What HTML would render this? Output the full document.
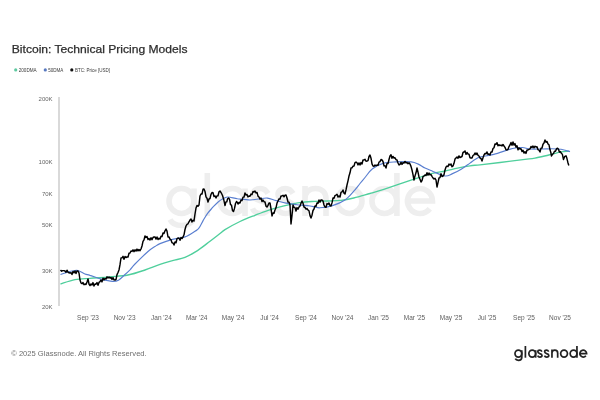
<!DOCTYPE html>
<html><head><meta charset="utf-8">
<style>
html,body{margin:0;padding:0;background:#fff;width:600px;height:400px;overflow:hidden}
svg{position:absolute;left:0;top:0;filter:blur(0.3px)}
text{font-family:"Liberation Sans",sans-serif}
</style></head><body>
<svg width="600" height="400" viewBox="0 0 600 400">
<rect width="600" height="400" fill="#fff"/>
<text x="11.8" y="53.4" font-size="11.2" fill="#2e2e2e" stroke="#2e2e2e" stroke-width="0.25" textLength="175.7" lengthAdjust="spacingAndGlyphs">Bitcoin: Technical Pricing Models</text>
<g font-size="4.8" fill="#3a3a3a">
<circle cx="15.7" cy="69.9" r="1.6" fill="#5ec9a0"/>
<text x="18.7" y="71.8" textLength="18" lengthAdjust="spacingAndGlyphs">200DMA</text>
<circle cx="45.3" cy="69.9" r="1.6" fill="#5879c0"/>
<text x="48.2" y="71.8" textLength="15.2" lengthAdjust="spacingAndGlyphs">50DMA</text>
<circle cx="71.8" cy="69.9" r="1.6" fill="#111"/>
<text x="75" y="71.8" textLength="35" lengthAdjust="spacingAndGlyphs">BTC: Price [USD]</text>
</g>
<defs><g id="wm" fill="none">
<circle cx="181.5" cy="201" r="12.5"/><path d="M194,188.5 V215 C194,222 188.5,225.5 181.5,225.5 C176.5,225.5 172,223.5 170,219.5"/>
<path d="M207.3,173 V216"/>
<circle cx="232.5" cy="201" r="12.5"/><path d="M245,188.5 V216"/>
<path id="s1" d="M268,193.5 C266,190 263,188.5 260.5,188.5 C256,188.5 253,191 253,194.5 C253,198.5 257,199.8 260.5,200.8 C264.5,201.8 268.5,203.5 268.5,207.5 C268.5,211 265,213.5 260.5,213.5 C257,213.5 254,212 252.5,208.5"/>
<path d="M293,193.5 C291,190 288,188.5 285.5,188.5 C281,188.5 278,191 278,194.5 C278,198.5 282,199.8 285.5,200.8 C289.5,201.8 293.5,203.5 293.5,207.5 C293.5,211 290,213.5 285.5,213.5 C282,213.5 279,212 277.5,208.5"/>
<path d="M305,216 V186 M305,199 C305,192 309.5,188.5 315.5,188.5 C321.5,188.5 326,192 326,199 V216"/>
<circle cx="349.5" cy="201" r="12.5"/>
<circle cx="384.4" cy="201" r="12.5"/><path d="M396.9,173 V216"/>
<path d="M407.5,201 H432.5 A12.5,12.5 0 1 0 429.8,208.8"/>
</g></defs>
<use href="#wm" stroke="#eeeeee" stroke-width="5.6"/>
<line x1="59" y1="97" x2="59" y2="306" stroke="#b3b3b3" stroke-width="1"/>
<g font-size="6" fill="#666" text-anchor="end" transform="translate(0.6,1)">
<text x="52" y="99.5">200K</text>
<text x="52" y="163">100K</text>
<text x="52" y="195">70K</text>
<text x="52" y="226">50K</text>
<text x="52" y="272">30K</text>
<text x="52" y="308">20K</text>
</g>
<g font-size="6.5" fill="#5e5e5e" text-anchor="middle">
<text x="88" y="320">Sep '23</text>
<text x="124.6" y="320">Nov '23</text>
<text x="161.4" y="320">Jan '24</text>
<text x="196.7" y="320">Mar '24</text>
<text x="233" y="320">May '24</text>
<text x="269.5" y="320">Jul '24</text>
<text x="306" y="320">Sep '24</text>
<text x="342.5" y="320">Nov '24</text>
<text x="378.5" y="320">Jan '25</text>
<text x="414.5" y="320">Mar '25</text>
<text x="451" y="320">May '25</text>
<text x="487" y="320">Jul '25</text>
<text x="524" y="320">Sep '25</text>
<text x="560" y="320">Nov '25</text>
</g>
<path d="M60.5,284.0 C62.9,283.3 70.1,280.5 75.0,279.6 C79.9,278.7 84.2,278.8 90.0,278.4 C95.8,277.9 103.7,277.5 110.0,276.9 C116.3,276.3 122.2,276.1 128.0,275.0 C133.8,273.9 139.7,271.8 145.0,270.0 C150.3,268.2 155.4,266.0 160.0,264.4 C164.6,262.8 168.3,261.8 172.5,260.6 C176.7,259.4 180.8,259.0 185.0,257.3 C189.2,255.6 193.3,253.3 197.5,250.6 C201.7,247.9 206.2,244.1 210.0,241.2 C213.8,238.4 217.5,235.4 220.0,233.5 C222.5,231.6 221.7,231.6 225.0,229.6 C228.3,227.6 235.0,223.9 240.0,221.5 C245.0,219.1 250.4,217.1 255.0,215.3 C259.6,213.5 263.3,212.0 267.5,210.6 C271.7,209.2 275.8,208.0 280.0,206.9 C284.2,205.8 288.3,204.6 292.5,203.8 C296.7,202.9 301.2,202.4 305.0,202.0 C308.8,201.6 311.2,201.6 315.0,201.4 C318.8,201.2 323.7,201.2 328.0,201.0 C332.3,200.8 336.7,200.8 341.0,200.3 C345.3,199.8 348.9,199.1 353.8,198.0 C358.6,196.9 365.0,194.9 370.0,193.5 C375.0,192.1 376.7,191.7 383.8,189.4 C390.8,187.1 404.4,182.3 412.5,179.6 C420.6,176.9 427.1,174.7 432.5,173.3 C437.9,171.9 440.8,171.9 445.0,171.0 C449.2,170.1 453.3,169.0 457.5,168.1 C461.7,167.2 466.2,166.4 470.0,165.8 C473.8,165.2 475.0,165.4 480.0,164.8 C485.0,164.2 492.5,163.4 500.0,162.5 C507.5,161.6 519.2,160.1 525.0,159.4 C530.8,158.7 531.0,158.8 535.0,158.1 C539.0,157.4 544.4,156.0 548.8,155.0 C553.1,154.0 557.9,152.5 561.2,151.9 C564.6,151.3 567.7,151.4 569.0,151.2" fill="none" stroke="#4fcf9c" stroke-width="1.35"/>
<path d="M60.5,274.5 C61.2,274.2 63.1,273.6 65.0,273.0 C66.9,272.4 69.8,271.4 72.0,271.0 C74.2,270.6 75.8,270.0 78.0,270.5 C80.2,271.0 83.0,273.2 85.0,274.0 C87.0,274.8 87.3,274.5 90.0,275.4 C92.7,276.2 97.5,278.1 101.2,279.1 C105.0,280.1 109.6,281.2 112.5,281.4 C115.4,281.6 116.4,281.4 118.5,280.2 C120.6,279.1 123.1,276.2 125.0,274.5 C126.9,272.8 128.3,271.5 130.0,269.8 C131.7,268.0 132.0,267.0 135.0,264.0 C138.0,261.0 144.7,254.4 148.0,251.5 C151.3,248.6 153.0,247.8 155.0,246.5 C157.0,245.2 157.1,244.8 160.0,243.6 C162.9,242.4 168.3,240.5 172.5,239.4 C176.7,238.3 181.2,238.3 185.0,236.9 C188.8,235.5 192.7,232.7 195.0,231.2 C197.3,229.8 197.5,230.1 198.9,228.2 C200.3,226.4 201.8,222.9 203.2,220.4 C204.7,217.9 206.0,215.6 207.6,213.4 C209.2,211.2 211.2,209.2 212.9,207.2 C214.7,205.3 216.3,203.5 218.1,202.0 C219.8,200.5 221.8,199.3 223.4,198.5 C225.1,197.7 225.7,197.0 228.0,197.0 C230.3,197.0 233.8,198.2 237.5,198.8 C241.2,199.2 246.2,200.0 250.0,200.0 C253.8,200.0 257.1,199.1 260.0,198.8 C262.9,198.4 264.8,197.8 267.5,198.1 C270.2,198.4 273.1,199.8 276.2,200.6 C279.4,201.4 282.5,202.4 286.2,203.1 C290.0,203.8 295.2,204.6 298.8,205.0 C302.3,205.4 304.8,205.3 307.5,205.6 C310.2,205.9 312.9,206.5 315.0,206.9 C317.1,207.3 317.1,208.0 320.0,207.8 C322.9,207.6 328.3,206.9 332.5,205.6 C336.7,204.3 341.5,202.4 345.0,200.0 C348.5,197.6 351.2,194.0 353.8,191.2 C356.2,188.5 358.1,185.8 360.0,183.5 C361.9,181.2 362.9,180.0 365.0,177.5 C367.1,175.0 369.4,171.2 372.5,168.8 C375.6,166.3 379.8,164.2 383.8,163.1 C387.7,162.0 391.7,162.1 396.2,161.9 C400.8,161.7 407.5,161.5 411.2,161.9 C415.0,162.3 416.5,163.4 418.8,164.4 C421.0,165.4 422.7,167.0 425.0,168.1 C427.3,169.2 429.2,169.9 432.5,171.2 C435.8,172.6 441.7,175.6 445.0,176.0 C448.3,176.4 449.8,174.7 452.5,173.6 C455.2,172.5 458.3,171.0 461.2,169.2 C464.2,167.5 467.7,164.7 470.0,163.1 C472.3,161.5 473.3,160.6 475.0,159.6 C476.7,158.6 476.9,157.9 480.0,157.0 C483.1,156.1 488.3,155.8 493.8,154.4 C499.2,153.0 507.7,149.7 512.5,148.5 C517.3,147.3 519.6,147.4 522.5,147.5 C525.4,147.6 526.7,148.8 530.0,149.0 C533.3,149.2 539.2,149.0 542.5,149.0 C545.8,149.0 546.9,148.8 550.0,148.8 C553.1,148.8 557.7,148.7 561.0,149.2 C564.3,149.7 568.5,151.2 570.0,151.6" fill="none" stroke="#5a7fd0" stroke-width="1.15"/>
<path d="M60.5,270.0 L61.6,271.2 L62.8,270.6 L63.9,270.6 L65.0,271.0 L66.0,272.3 L67.0,270.2 L68.0,272.1 L69.0,272.8 L70.0,273.0 L71.0,272.7 L72.0,274.5 L73.0,271.4 L74.0,272.8 L75.0,271.0 L76.0,273.5 L77.0,270.9 L78.0,271.0 L79.0,273.0 L80.0,280.0 L81.0,283.0 L82.0,283.7 L83.0,282.6 L84.0,284.8 L85.0,284.0 L86.0,284.5 L87.0,282.0 L88.0,279.0 L89.0,284.0 L90.0,285.6 L91.0,283.9 L92.0,285.0 L93.0,282.6 L94.0,286.0 L95.0,284.0 L96.0,284.2 L97.0,282.5 L98.0,285.2 L99.0,282.4 L100.0,281.6 L101.0,280.0 L102.0,281.9 L103.0,278.2 L104.0,279.9 L105.0,278.5 L106.0,279.1 L107.0,276.8 L108.0,278.0 L109.0,277.0 L110.0,278.1 L111.0,277.4 L112.0,279.3 L113.0,277.6 L114.0,279.9 L115.0,280.0 L116.0,279.5 L117.0,274.6 L118.0,272.5 L119.0,270.0 L120.0,264.7 L121.0,258.0 L122.0,257.8 L123.0,256.3 L124.0,259.2 L125.0,256.5 L126.0,257.5 L127.0,257.0 L128.0,257.1 L129.0,253.3 L130.0,253.0 L131.0,251.0 L132.0,251.4 L133.0,249.8 L134.0,251.7 L135.0,249.8 L136.0,251.1 L137.0,249.1 L138.0,250.9 L139.0,249.5 L140.0,250.7 L141.0,249.0 L142.0,246.0 L143.0,241.4 L144.0,239.9 L145.0,236.0 L146.0,237.5 L147.0,236.5 L148.0,239.5 L149.0,238.6 L150.0,240.0 L151.0,237.7 L152.0,239.7 L153.0,237.5 L154.0,237.0 L155.0,236.9 L156.0,239.1 L157.0,237.0 L158.0,239.6 L159.0,238.3 L160.0,239.0 L161.0,236.3 L162.0,236.6 L163.0,233.0 L164.0,233.5 L165.0,230.8 L166.0,229.0 L167.0,231.1 L168.0,237.0 L169.0,236.9 L170.0,239.2 L171.0,239.7 L172.0,242.9 L173.0,243.0 L174.0,245.0 L175.0,241.9 L176.0,242.7 L177.0,238.7 L178.0,238.0 L179.0,238.3 L180.0,240.3 L181.0,237.5 L182.0,238.6 L183.0,237.0 L184.0,234.8 L185.0,229.5 L186.0,226.0 L187.0,224.3 L188.0,223.8 L189.0,221.8 L190.0,220.0 L191.0,219.0 L192.0,222.0 L193.0,220.3 L194.0,221.0 L195.0,214.0 L196.0,208.0 L197.0,205.4 L198.0,206.2 L199.0,205.0 L200.0,196.0 L201.0,194.0 L202.0,194.1 L203.0,189.3 L204.0,189.0 L205.0,191.5 L206.0,196.9 L207.0,198.2 L208.0,202.0 L209.0,199.0 L210.0,198.5 L211.0,194.4 L212.0,192.5 L213.0,192.8 L214.0,196.5 L215.0,195.9 L216.0,198.0 L217.0,195.9 L218.0,195.8 L219.0,191.9 L220.0,191.0 L221.2,192.8 L222.5,195.5 L223.8,199.8 L225.0,205.5 L225.9,202.0 L226.8,201.9 L227.6,198.7 L228.5,198.0 L229.5,199.2 L230.5,204.6 L231.5,205.1 L232.5,210.7 L233.5,211.5 L234.5,208.4 L235.5,203.5 L236.5,201.5 L237.2,202.3 L238.0,204.0 L239.0,202.5 L240.0,203.0 L241.0,200.0 L242.0,200.6 L243.0,197.1 L244.0,197.1 L245.0,193.0 L246.0,195.0 L247.0,194.4 L248.0,196.9 L249.0,196.0 L250.0,196.3 L251.0,194.1 L252.0,194.6 L253.0,191.4 L254.0,192.1 L255.0,191.0 L256.0,193.0 L257.0,192.4 L258.0,196.1 L259.0,197.0 L260.0,199.1 L261.0,198.1 L262.0,201.6 L263.0,200.0 L264.0,201.7 L265.0,202.0 L266.0,206.1 L267.0,207.0 L268.0,205.4 L269.0,203.0 L270.0,203.0 L271.0,208.6 L272.0,216.0 L273.0,213.0 L274.0,213.2 L275.0,210.0 L276.0,207.8 L277.0,203.1 L278.0,201.0 L279.0,198.9 L280.0,199.0 L281.0,196.0 L282.0,196.0 L283.0,195.2 L284.0,196.8 L285.0,195.1 L286.0,195.0 L287.0,198.0 L288.0,202.0 L289.0,202.1 L290.0,205.0 L291.0,224.0 L292.0,215.5 L293.0,205.0 L294.0,207.4 L295.0,207.6 L296.0,211.0 L297.0,207.6 L298.0,209.2 L299.0,207.0 L300.0,205.9 L301.0,203.2 L302.0,201.0 L303.0,203.2 L304.0,207.0 L305.0,207.5 L306.0,209.1 L307.0,208.6 L308.0,210.0 L309.0,210.8 L310.0,215.6 L311.0,218.0 L312.0,215.2 L313.0,210.5 L314.0,209.0 L315.0,206.0 L316.0,206.2 L317.0,203.0 L318.0,203.3 L319.0,200.0 L320.0,202.2 L321.0,199.9 L322.0,200.0 L323.0,201.0 L324.0,205.0 L325.0,207.0 L326.0,207.3 L327.0,203.6 L328.0,204.2 L329.0,203.0 L330.0,205.5 L331.0,206.0 L332.0,202.9 L333.0,198.0 L334.0,198.3 L335.0,195.6 L336.0,195.0 L337.0,194.3 L338.0,197.1 L339.0,196.0 L340.0,197.0 L341.0,192.4 L342.0,191.9 L343.0,190.0 L344.0,193.1 L345.0,194.0 L346.0,189.9 L347.0,185.0 L348.0,180.8 L349.0,176.0 L350.0,172.8 L351.0,168.0 L352.0,167.8 L353.0,166.2 L354.0,166.0 L355.0,162.6 L356.0,162.0 L357.0,162.8 L358.0,164.9 L359.0,162.9 L360.0,165.0 L361.0,162.6 L362.0,164.0 L363.0,160.0 L364.0,160.0 L365.0,159.2 L366.0,161.2 L367.0,161.0 L368.0,160.6 L369.0,156.5 L370.0,155.0 L371.0,158.2 L372.0,163.9 L373.0,166.0 L374.0,166.2 L375.0,165.0 L376.0,165.8 L377.0,165.0 L378.0,165.4 L379.0,162.1 L380.0,161.6 L381.0,159.5 L382.0,160.0 L383.0,161.5 L384.0,165.9 L385.0,165.8 L386.0,168.0 L387.0,163.4 L388.0,163.6 L389.0,159.5 L390.0,156.0 L391.0,154.7 L392.0,158.2 L393.0,156.4 L394.0,158.0 L395.0,157.8 L396.0,159.6 L397.0,160.0 L398.0,163.0 L399.0,165.0 L400.0,164.3 L401.0,162.4 L402.0,164.4 L403.0,162.7 L404.0,163.0 L405.0,161.4 L406.0,162.9 L407.0,162.5 L408.0,163.7 L409.0,162.8 L410.0,164.0 L411.0,166.4 L412.0,170.0 L413.0,174.7 L414.0,180.0 L415.0,175.9 L416.0,172.8 L417.0,168.0 L418.0,172.1 L419.0,177.0 L420.0,179.3 L421.0,182.0 L422.0,180.5 L423.0,176.7 L424.0,176.0 L425.0,174.9 L426.0,175.6 L427.0,172.8 L428.0,175.1 L429.0,173.0 L430.0,174.9 L431.0,174.5 L432.0,176.3 L433.0,178.0 L434.0,179.0 L435.0,178.3 L436.0,180.0 L437.0,187.0 L438.0,182.7 L439.0,178.0 L440.0,177.6 L441.0,173.8 L442.0,176.5 L443.0,176.0 L444.0,174.7 L445.0,169.9 L446.0,167.0 L447.0,166.1 L448.0,166.6 L449.0,164.1 L450.0,165.0 L451.0,163.9 L452.0,166.7 L453.0,166.0 L454.0,163.3 L455.0,159.1 L456.0,158.0 L457.0,157.0 L458.0,158.3 L459.0,155.9 L460.0,157.5 L461.0,157.0 L462.0,156.5 L463.0,152.5 L464.0,152.0 L465.0,150.9 L466.0,154.3 L467.0,152.5 L468.0,154.0 L469.0,154.1 L470.0,157.8 L471.0,158.0 L472.0,158.0 L473.0,155.5 L474.0,154.9 L475.0,153.0 L476.0,154.6 L477.0,153.0 L478.0,155.3 L479.0,156.0 L480.0,158.0 L481.0,158.5 L482.0,161.0 L483.0,157.8 L484.0,155.0 L485.0,153.5 L486.0,153.8 L487.0,151.9 L488.0,154.4 L489.0,154.0 L490.0,155.0 L491.0,151.9 L492.0,152.0 L493.0,148.5 L494.0,147.7 L495.0,144.0 L496.0,144.3 L497.0,142.7 L498.0,145.7 L499.0,144.7 L500.0,145.6 L501.0,145.0 L502.0,145.9 L503.0,144.5 L504.0,146.0 L505.0,147.4 L506.0,149.7 L507.0,150.0 L508.0,149.3 L509.0,146.6 L510.0,145.0 L511.0,142.5 L512.0,145.2 L513.0,142.0 L514.0,145.0 L515.0,143.6 L516.0,147.0 L517.0,145.7 L518.0,149.8 L519.0,147.9 L520.0,149.0 L521.0,148.7 L522.0,151.5 L523.0,150.2 L524.0,153.0 L525.0,151.7 L526.0,153.4 L527.0,150.0 L528.0,150.0 L529.0,149.3 L530.0,148.9 L531.0,146.4 L532.0,147.6 L533.0,146.0 L534.0,147.8 L535.0,146.2 L536.0,147.0 L537.0,146.8 L538.0,149.7 L539.0,150.1 L540.0,152.0 L541.0,148.1 L542.0,148.0 L543.0,144.2 L544.0,143.0 L545.0,140.0 L546.0,142.3 L547.0,141.4 L548.0,144.0 L549.0,144.8 L550.0,149.8 L550.8,152.4 L551.5,156.0 L552.5,154.3 L553.5,153.5 L554.5,151.2 L555.5,151.2 L556.5,148.9 L557.5,148.2 L558.5,149.3 L559.4,152.0 L560.3,151.6 L561.2,153.0 L562.4,154.4 L563.5,159.5 L564.8,156.3 L566.0,155.8 L566.9,158.3 L567.8,162.2 L568.8,165.5" fill="none" stroke="#000" stroke-width="1.45" stroke-linejoin="round"/>
<text x="11.2" y="355.8" font-size="7.6" fill="#6e6e6e" textLength="135.5" lengthAdjust="spacingAndGlyphs">© 2025 Glassnode. All Rights Reserved.</text>
<use href="#wm" stroke="#222" stroke-width="6.3" transform="translate(514.3,357.7) scale(0.2719) translate(-166.5,-216)"/>
</svg>
</body></html>
